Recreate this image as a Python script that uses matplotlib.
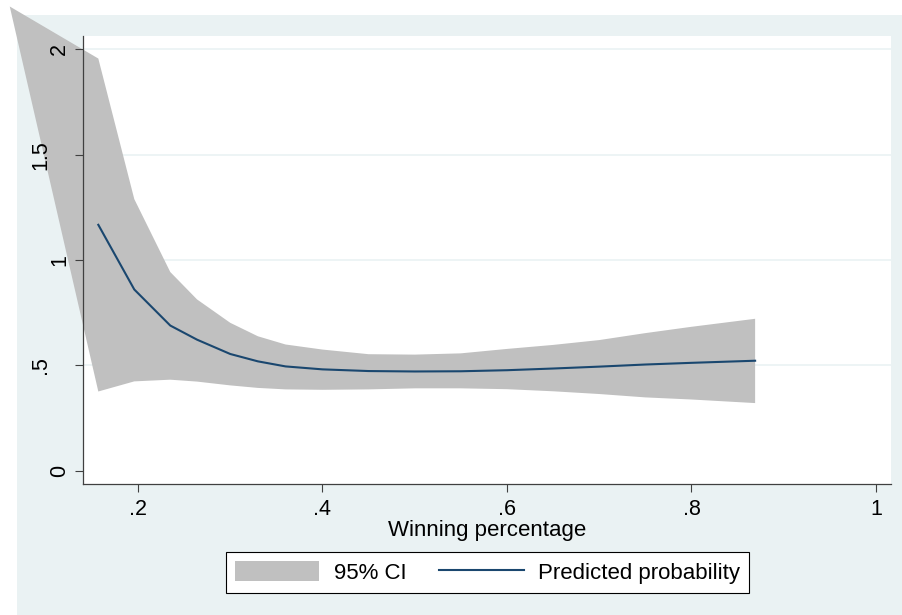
import matplotlib.pyplot as plt
from matplotlib.patches import Rectangle
from matplotlib.transforms import offset_copy

plt.rcParams['font.family'] = ['Liberation Sans', 'DejaVu Sans']

# predicted probability by winning percentage, with 95% CI
win_pct = [0.157, 0.196, 0.235, 0.264, 0.30, 0.33, 0.36, 0.40, 0.45,
           0.50, 0.55, 0.60, 0.65, 0.70, 0.75, 0.80, 0.869]
pred = [1.167, 0.860, 0.689, 0.622, 0.554, 0.519, 0.495, 0.481, 0.473,
        0.471, 0.472, 0.477, 0.485, 0.494, 0.504, 0.512, 0.522]
ci_upper = [1.956, 1.289, 0.943, 0.813, 0.702, 0.638, 0.599, 0.575, 0.553,
            0.551, 0.557, 0.578, 0.597, 0.620, 0.653, 0.683, 0.721]
ci_lower = [0.376, 0.424, 0.432, 0.423, 0.405, 0.393, 0.386, 0.384, 0.386,
            0.391, 0.391, 0.387, 0.377, 0.364, 0.348, 0.338, 0.321]
# stray first vertex of the CI area as it appears in the source graph
ci_stray_x = 0.061
ci_stray_y = 2.203

x_ticks = [0.2, 0.4, 0.6, 0.8, 1.0]
x_ticklabels = ['.2', '.4', '.6', '.8', '1']
y_ticks = [0, 0.5, 1, 1.5, 2]
y_ticklabels = ['0', '.5', '1', '1.5', '2']

bg = '#EAF2F3'
band_col = '#C0C0C0'
line_col = '#1A476F'
fs = 15.5

fig = plt.figure(figsize=(9.02, 6.15), dpi=100)
fig.add_artist(Rectangle((17 / 902, 0), 1, 1 - 15 / 615, transform=fig.transFigure,
                         facecolor=bg, edgecolor='none', zorder=-10))

ax = fig.add_axes([83 / 902, 1 - 484 / 615, (891 - 83) / 902, (484 - 36) / 615])
ax.set_facecolor('white')

# CI area (not clipped, like the original)
poly_x = [ci_stray_x] + win_pct + win_pct[::-1]
poly_y = [ci_stray_y] + ci_upper + ci_lower[::-1]
band = ax.fill(poly_x, poly_y, color=band_col, lw=0, clip_on=False, zorder=1.5,
               label='95% CI')[0]
line, = ax.plot(win_pct, pred, color=line_col, lw=1.5, zorder=3,
                label='Predicted probability')

for yv in y_ticks[1:]:
    ax.axhline(yv, color=bg, lw=1.2, zorder=1)

ax.set_xlim(0.1404, 1.0163)
ax.set_ylim(-0.063, 2.063)
ax.set_xticks(x_ticks)
ax.set_xticklabels(x_ticklabels)
ax.set_yticks(y_ticks)
ax.set_yticklabels([])

for s in ['top', 'right']:
    ax.spines[s].set_visible(False)
for s in ['left', 'bottom']:
    ax.spines[s].set_color('#404040')
    ax.spines[s].set_linewidth(0.9)

ax.tick_params(axis='both', length=6, width=0.8, color='#404040', labelsize=fs)
ax.tick_params(axis='x', pad=5)
ax.tick_params(axis='y', labelleft=False)

# vertical y labels; the ones with a leading dot sit further left in the original
for yv, lab in zip(y_ticks, y_ticklabels):
    dx = -42.5 if '.' in lab else -23.5
    tr = offset_copy(ax.get_yaxis_transform(), fig=fig, x=dx, y=0, units='dots')
    ax.text(0, yv, lab, transform=tr, rotation=90, ha='center', va='center',
            fontsize=fs, clip_on=False)

ax.set_xlabel('Winning percentage', fontsize=fs + 0.5, labelpad=0)

leg = fig.legend(handles=[band, line], loc='center', ncol=2,
                 bbox_to_anchor=(487.5 / 902, 1 - 572.5 / 615),
                 fontsize=16, frameon=True, fancybox=False,
                 handlelength=3.8, handleheight=1.0, handletextpad=0.65,
                 columnspacing=1.5, borderpad=0.4)
leg.get_frame().set_edgecolor('black')
leg.get_frame().set_linewidth(0.8)
leg.get_frame().set_facecolor('white')
leg.get_frame().set_alpha(1)

fig.savefig('out.png', dpi=100)
